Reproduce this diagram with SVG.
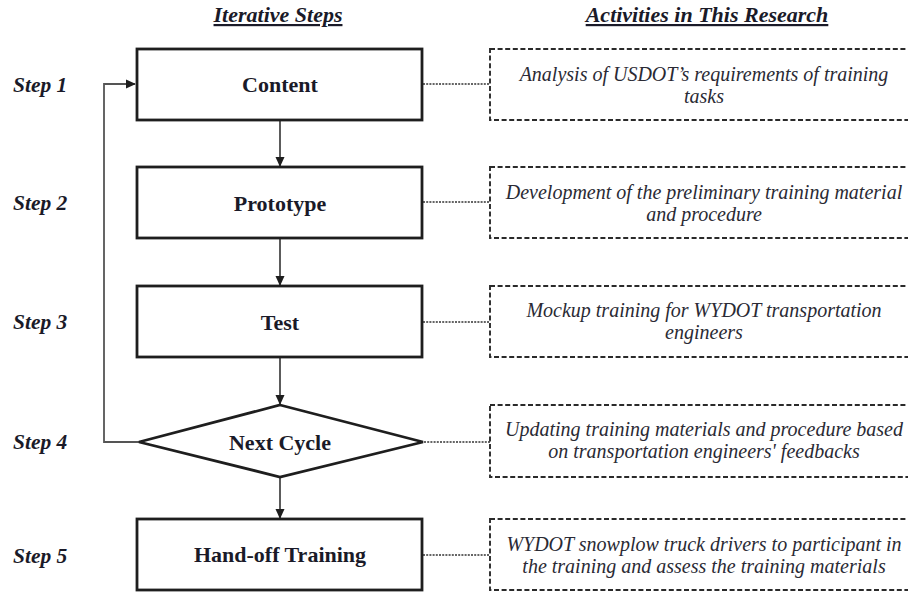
<svg xmlns="http://www.w3.org/2000/svg" width="908" height="594" viewBox="0 0 908 594">
  <style>
    .bg { fill: #ffffff; }
    .box { fill: #ffffff; stroke: #1e1e1e; stroke-width: 2.8; }
    .dbox { fill: #ffffff; stroke: #2a2a2a; stroke-width: 1.9; stroke-dasharray: 5 2.6; }
    .link { fill: none; stroke: #333333; stroke-width: 1.6; }
    .loop { fill: none; stroke: #555555; stroke-width: 1.8; }
    .dot { fill: none; stroke: #333333; stroke-width: 1.6; stroke-dasharray: 2 1.2; }
    text { font-family: "Liberation Serif", "DejaVu Serif", serif; }
    .head { font-size: 22px; font-weight: bold; font-style: italic; fill: #1a1a28; text-anchor: middle; text-decoration: underline; }
    .step { font-size: 21.5px; font-weight: bold; font-style: italic; fill: #1a1a28; }
    .label { font-size: 22px; font-weight: bold; fill: #1a1a28; text-anchor: middle; }
    .note { font-size: 20px; font-style: italic; fill: #2a2a34; text-anchor: middle; }
  </style>
  <defs>
    <marker id="arrow" markerWidth="10" markerHeight="11" refX="10" refY="5" orient="auto" markerUnits="userSpaceOnUse" viewBox="0 0 11 10">
      <path d="M0,0 L11,5 L0,10 Z" fill="#1e1e1e"/>
    </marker>
  </defs>

  <rect class="bg" x="0" y="0" width="908" height="594"/>

  <!-- column headers -->
  <text class="head" x="278" y="22">Iterative Steps</text>
  <text class="head" x="707" y="22">Activities in This Research</text>

  <!-- step labels -->
  <g id="step-labels">
    <text class="step" x="13" y="92">Step 1</text>
    <text class="step" x="13" y="210">Step 2</text>
    <text class="step" x="13" y="329">Step 3</text>
    <text class="step" x="13" y="449">Step 4</text>
    <text class="step" x="13" y="563">Step 5</text>
  </g>

  <!-- connectors -->
  <g id="connectors">
    <line class="link" x1="280" y1="121" x2="280" y2="166" marker-end="url(#arrow)"/>
    <line class="link" x1="280" y1="239" x2="280" y2="285" marker-end="url(#arrow)"/>
    <line class="link" x1="280" y1="358" x2="280" y2="404" marker-end="url(#arrow)"/>
    <line class="link" x1="280" y1="478" x2="280" y2="518" marker-end="url(#arrow)"/>
    <polyline class="loop" points="139,442 104,442 104,84 135,84" marker-end="url(#arrow)"/>
    <line class="dot" x1="423" y1="84" x2="490" y2="84"/>
    <line class="dot" x1="423" y1="202" x2="490" y2="202"/>
    <line class="dot" x1="423" y1="322" x2="490" y2="322"/>
    <line class="dot" x1="424" y1="442" x2="490" y2="442"/>
    <line class="dot" x1="423" y1="555" x2="490" y2="555"/>
  </g>

  <!-- process nodes -->
  <g id="content">
    <rect class="box" x="137" y="49" width="285" height="71"/>
    <text class="label" x="280" y="92">Content</text>
  </g>
  <g id="prototype">
    <rect class="box" x="137" y="167" width="285" height="71"/>
    <text class="label" x="280" y="211">Prototype</text>
  </g>
  <g id="test">
    <rect class="box" x="137" y="286" width="285" height="71"/>
    <text class="label" x="280" y="330">Test</text>
  </g>
  <g id="next-cycle">
    <polygon class="box" points="280,405 423,442 280,477 139,442"/>
    <text class="label" x="280" y="450">Next Cycle</text>
  </g>
  <g id="hand-off">
    <rect class="box" x="137" y="519" width="285" height="71"/>
    <text class="label" x="280" y="562">Hand-off Training</text>
  </g>

  <!-- research activities -->
  <g id="activity-1">
    <rect class="dbox" x="490" y="49" width="425" height="71"/>
    <text class="note" x="704" y="81">Analysis of USDOT’s requirements of training</text>
    <text class="note" x="704" y="103">tasks</text>
  </g>
  <g id="activity-2">
    <rect class="dbox" x="490" y="167" width="425" height="71"/>
    <text class="note" x="704" y="199">Development of the preliminary training material</text>
    <text class="note" x="704" y="221">and procedure</text>
  </g>
  <g id="activity-3">
    <rect class="dbox" x="490" y="286" width="425" height="71"/>
    <text class="note" x="704" y="317">Mockup training for WYDOT transportation</text>
    <text class="note" x="704" y="339">engineers</text>
  </g>
  <g id="activity-4">
    <rect class="dbox" x="490" y="405" width="425" height="72"/>
    <text class="note" x="704" y="436">Updating training materials and procedure based</text>
    <text class="note" x="704" y="458">on transportation engineers' feedbacks</text>
  </g>
  <g id="activity-5">
    <rect class="dbox" x="490" y="519" width="425" height="71"/>
    <text class="note" x="704" y="551">WYDOT snowplow truck drivers to participant in</text>
    <text class="note" x="704" y="573">the training and assess the training materials</text>
  </g>
</svg>
